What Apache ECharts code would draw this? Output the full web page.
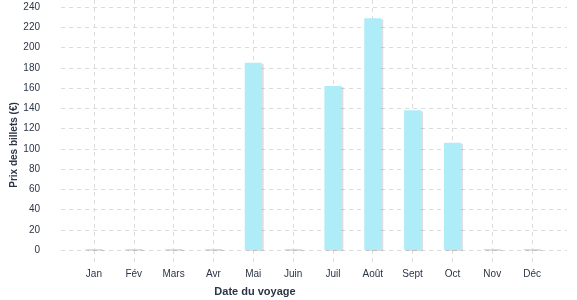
<!DOCTYPE html>
<html>
<head>
<meta charset="utf-8">
<script src="https://cdn.jsdelivr.net/npm/echarts@6/dist/echarts.min.js"></script>
<style>html,body{margin:0;padding:0;background:#fff;}#c{width:577px;height:300px;}</style>
</head>
<body>
<div id="c"></div>
<script>
const months = ['Jan','Fév','Mars','Avr','Mai','Juin','Juil','Août','Sept','Oct','Nov','Déc'];
const prices = [0,0,0,0,185,0,162,229,138,106,0,0];
const yMin = 0, yMax = 240, yStep = 20;
const xTitle = 'Date du voyage';
const yTitle = 'Prix des billets (€)';

const font = 'Liberation Sans, Arial, Helvetica, sans-serif';
const txt = '#2b3547';
const gridCol = '#dcdcdc';

const chart = echarts.init(document.getElementById('c'), null, {renderer:'canvas'});
chart.setOption({
  animation:false,
  grid:[
    {left:61, width:506, top:7, height:243},   // y axis / horizontal lines
    {left:74, width:478, top:7, height:243},   // bars
    {left:94, width:438, top:0, height:250}    // vertical lines
  ],
  xAxis:[
    {gridIndex:0, type:'value', show:false, min:0, max:1},
    {gridIndex:1, type:'category', data:months, boundaryGap:true,
     axisLine:{show:false}, axisTick:{show:false}, splitLine:{show:false},
     axisLabel:{color:txt, fontSize:10, fontFamily:font, margin:19}},
    {gridIndex:2, type:'category', data:months, boundaryGap:false,
     axisLine:{show:false}, axisLabel:{show:false},
     axisTick:{show:true, length:15, lineStyle:{color:gridCol, type:[4,4]}},
     splitLine:{show:true, lineStyle:{color:gridCol, type:[4,4]}}}
  ],
  yAxis:[
    {gridIndex:0, type:'value', min:yMin, max:yMax, interval:yStep,
     axisLine:{show:false}, axisTick:{show:false},
     splitLine:{show:true, lineStyle:{color:gridCol, type:[4,4]}},
     axisLabel:{color:txt, fontSize:10, fontFamily:font, margin:21}},
    {gridIndex:1, type:'value', min:yMin, max:yMax, show:false},
    {gridIndex:2, type:'value', min:0, max:1, show:false}
  ],
  graphic:[
    {type:'text', left:'center', x:0, style:{text:xTitle, x:255, y:292, align:'center', verticalAlign:'middle',
      fill:txt, font:'bold 11px '+font}, left:null},
    {type:'text', rotation:Math.PI/2, x:14, y:145, style:{text:yTitle, align:'center', verticalAlign:'middle',
      fill:txt, font:'bold 10px '+font}}
  ],
  series:[{
    type:'bar', xAxisIndex:1, yAxisIndex:1, data:prices, barWidth:17, barMinHeight:1,
    itemStyle:{color:'#aeedf8', shadowColor:'rgba(0,0,0,0.13)', shadowOffsetX:2, shadowOffsetY:1, shadowBlur:0}
  }]
});
</script>
</body>
</html>
